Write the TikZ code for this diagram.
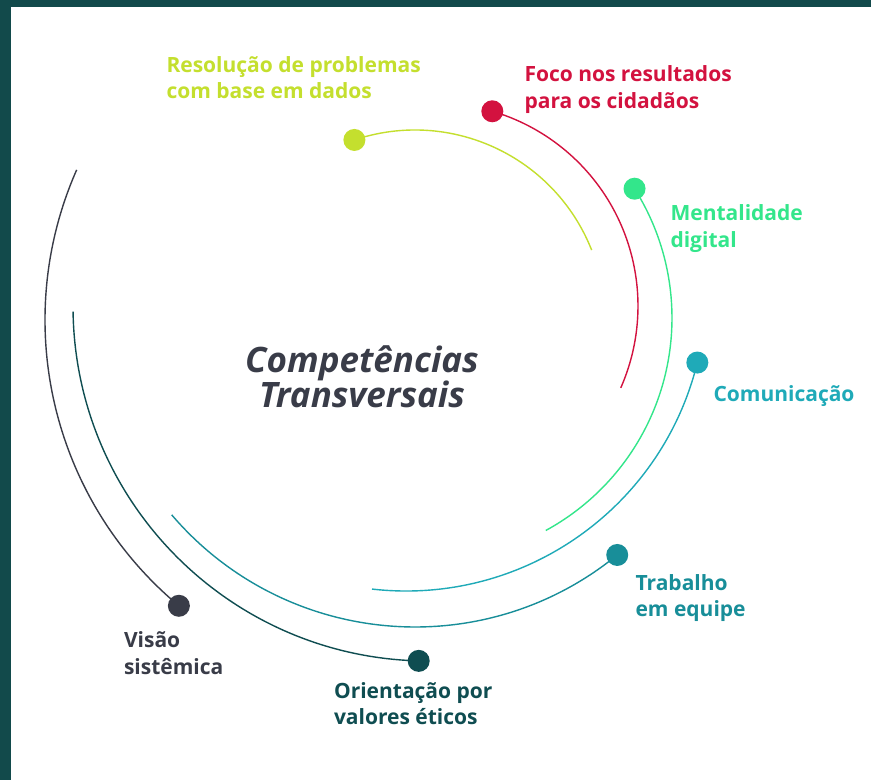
\documentclass[tikz,border=0pt]{standalone}
\usepackage{fontspec}
\setmainfont{Open Sans}
\usepackage{tikz}
\definecolor{frameteal}{HTML}{124A4B}
\definecolor{cyellow}{HTML}{C4DF2E}
\definecolor{cred}{HTML}{D3123F}
\definecolor{cgreen}{HTML}{33E68B}
\definecolor{ccyan}{HTML}{1FAAB8}
\definecolor{cteal}{HTML}{188E99}
\definecolor{cdeep}{HTML}{0F4D51}
\definecolor{cslate}{HTML}{393C48}
\tikzset{%
	knob/.style  = {circle, inner sep=0pt, minimum size=22pt},
	ring/.style  = {line width=1.4pt},
	tag/.style   = {anchor=base west, align=left, font=\fontsize{21}{26.5}\selectfont\bfseries},
	title/.style = {anchor=base, align=center, text=cslate, font=\fontsize{35}{35}\selectfont\bfseries\itshape},
}
\begin{document}
\begin{tikzpicture}[x=1pt,y=-1pt]
	\useasboundingbox (0,0) rectangle (871,780);
	\fill[white] (0,0) rectangle (871,780);
	\fill[frameteal] (0,0) rectangle (871,7);
	\fill[frameteal] (0,0) rectangle (11,780);
	% dots
	\path (415,320) ++(-108.6:190) node[knob,fill=cyellow] (resolucao) {};
	\path (435,306) ++(-73.6:203) node[knob,fill=cred] (foco) {};
	\path (430,318) ++(-32.3:242) node[knob,fill=cgreen] (mentalidade) {};
	\path (406,291) ++(13.8:300) node[knob,fill=ccyan] (comunicacao) {};
	\path (415,307) ++(50.8:320) node[knob,fill=cteal] (trabalho) {};
	\path (428,306) ++(91.5:355) node[knob,fill=cdeep] (orientacao) {};
	\path (417,320) ++(129.8:372) node[knob,fill=cslate] (visao) {};
	% rings
	\draw[ring,cyellow] (resolucao.center) arc[start angle=-108.6, end angle=-21.6, radius=190];
	\draw[ring,cred] (foco.center) arc[start angle=-73.6, end angle=23.8, radius=203];
	\draw[ring,cgreen] (mentalidade.center) arc[start angle=-32.3, end angle=61.4, radius=242];
	\draw[ring,ccyan] (comunicacao.center) arc[start angle=13.8, end angle=96.5, radius=300];
	\draw[ring,cteal] (trabalho.center) arc[start angle=50.8, end angle=139.5, radius=320];
	\draw[ring,cdeep] (orientacao.center) arc[start angle=91.5, end angle=179.1, radius=355];
	\draw[ring,cslate] (visao.center) arc[start angle=129.8, end angle=203.8, radius=372];
	% labels (base = last line)
	\node[tag,text=cyellow] (resolucaotxt) at (163,98.8) {Resolução de problemas\\com base em dados};
	\node[tag,text=cred] (focotxt) at (521,108.2) {Foco nos resultados\\para os cidadãos};
	\node[tag,text=cgreen] (mentalidadetxt) at (667,247.2) {Mentalidade\\digital};
	\node[tag,text=ccyan] (comunicacaotxt) at (710,401.7) {Comunicação};
	\node[tag,text=cteal] (trabalhotxt) at (632,616.5) {Trabalho\\em equipe};
	\node[tag,text=cdeep] (orientacaotxt) at (330.5,724.8) {Orientação por\\valores éticos};
	\node[tag,text=cslate] (visaotxt) at (120.5,674.2) {Visão\\sistêmica};
	\node[title] (centro) at (362,407.3) {Competências\\Transversais};
\end{tikzpicture}
\end{document}
